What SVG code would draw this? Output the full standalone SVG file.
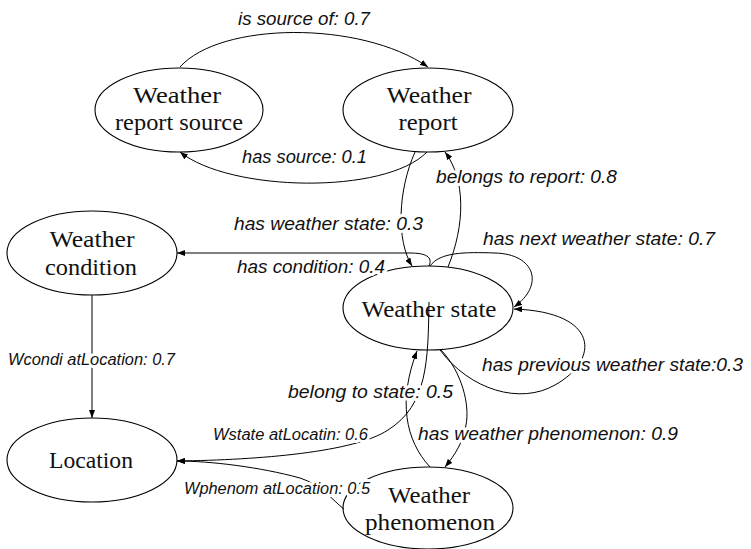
<svg xmlns="http://www.w3.org/2000/svg" width="751" height="549" viewBox="0 0 751 549">
<style>
.node ellipse{fill:none;stroke:#000;stroke-width:1.1}
.node text{font-family:"Liberation Serif","Times New Roman",serif;font-size:23px;fill:#111;text-anchor:middle}
.edge path{fill:none;stroke:#000;stroke-width:1}
.lbl{font-family:"Liberation Sans",Arial,sans-serif;font-style:italic;font-size:18px;fill:#111;stroke:#fff;stroke-width:6;stroke-linejoin:round;paint-order:stroke}
.sm{font-size:16px}
</style>
<defs>
<marker id="ah" markerWidth="8" markerHeight="6" refX="8" refY="3" orient="auto" markerUnits="userSpaceOnUse">
<path d="M0,0 L8,3 L0,6 z" fill="#000"/>
</marker>
</defs>
<rect width="751" height="549" fill="#fff"/>
<g id="weather-report-source" class="node">
<ellipse cx="179" cy="110" rx="84" ry="42"/>
<text x="177" y="103" textLength="88" lengthAdjust="spacingAndGlyphs">Weather</text>
<text x="179" y="130" textLength="128" lengthAdjust="spacingAndGlyphs">report source</text>
</g>
<g id="weather-report" class="node">
<ellipse cx="428" cy="110" rx="85" ry="42"/>
<text x="429" y="103" textLength="85" lengthAdjust="spacingAndGlyphs">Weather</text>
<text x="428" y="130" textLength="59" lengthAdjust="spacingAndGlyphs">report</text>
</g>
<g id="weather-condition" class="node">
<ellipse cx="92" cy="253" rx="85" ry="42"/>
<text x="92" y="247" textLength="85" lengthAdjust="spacingAndGlyphs">Weather</text>
<text x="91" y="275" textLength="92" lengthAdjust="spacingAndGlyphs">condition</text>
</g>
<g id="weather-state" class="node">
<ellipse cx="428" cy="308" rx="85" ry="42"/>
<text x="429" y="317" textLength="135" lengthAdjust="spacingAndGlyphs">Weather state</text>
</g>
<g id="location" class="node">
<ellipse cx="92" cy="460" rx="85" ry="42"/>
<text x="91" y="468" textLength="84" lengthAdjust="spacingAndGlyphs">Location</text>
</g>
<g id="weather-phenomenon" class="node">
<ellipse cx="428" cy="508" rx="85" ry="41"/>
<text x="429" y="503" textLength="82" lengthAdjust="spacingAndGlyphs">Weather</text>
<text x="430" y="530" textLength="130" lengthAdjust="spacingAndGlyphs">phenomenon</text>
</g>
<g id="edges" class="edge">
<path d="M180,67 C220,22 360,20 428,67" marker-end="url(#ah)"/>
<path d="M427,152 C385,195 230,192 180,152" marker-end="url(#ah)"/>
<path d="M415,152 C398,190 396,240 412,266" marker-end="url(#ah)"/>
<path d="M448,267 C465,225 466,180 445,152" marker-end="url(#ah)"/>
<path d="M429,266 C433,257 426,253 410,253 L177,253" marker-end="url(#ah)"/>
<path d="M430,266 C440,252 465,252 495,253 C535,254 545,285 514,307" marker-end="url(#ah)"/>
<path d="M440,350 C470,390 520,405 555,385 C600,360 600,312 514,309" marker-end="url(#ah)"/>
<path d="M430,467 C405,440 398,400 417,351" marker-end="url(#ah)"/>
<path d="M441,350 C462,372 470,405 466,425 C463,442 455,455 445,467" marker-end="url(#ah)"/>
<path d="M92,295 L92,418" marker-end="url(#ah)"/>
<path d="M429,302 C428,360 428,405 388,430 C355,452 260,460 177,461" marker-end="url(#ah)"/>
<path d="M344,509 C332,500 322,485 300,478 C260,467 210,461 177,461" marker-end="url(#ah)"/>
</g>
<g id="labels">
<text class="lbl" x="238" y="25" textLength="132" lengthAdjust="spacingAndGlyphs">is source of: 0.7</text>
<text class="lbl" x="242" y="163" textLength="125" lengthAdjust="spacingAndGlyphs">has source: 0.1</text>
<text class="lbl" x="436" y="183" textLength="181" lengthAdjust="spacingAndGlyphs">belongs to report: 0.8</text>
<text class="lbl" x="234" y="230" textLength="189" lengthAdjust="spacingAndGlyphs">has weather state: 0.3</text>
<text class="lbl" x="237" y="273" textLength="148" lengthAdjust="spacingAndGlyphs">has condition: 0.4</text>
<text class="lbl" x="483" y="245" textLength="232" lengthAdjust="spacingAndGlyphs">has next weather state: 0.7</text>
<text class="lbl" x="482" y="371" textLength="261" lengthAdjust="spacingAndGlyphs">has previous weather state:0.3</text>
<text class="lbl sm" x="8" y="365" textLength="167" lengthAdjust="spacingAndGlyphs">Wcondi atLocation: 0.7</text>
<text class="lbl" x="288" y="398" textLength="165" lengthAdjust="spacingAndGlyphs">belong to state: 0.5</text>
<text class="lbl sm" x="213" y="440" textLength="155" lengthAdjust="spacingAndGlyphs">Wstate atLocatin: 0.6</text>
<text class="lbl" x="418" y="440" textLength="260" lengthAdjust="spacingAndGlyphs">has weather phenomenon: 0.9</text>
<text class="lbl sm" x="184" y="494" textLength="186" lengthAdjust="spacingAndGlyphs">Wphenom atLocation: 0.5</text>
</g>
</svg>
